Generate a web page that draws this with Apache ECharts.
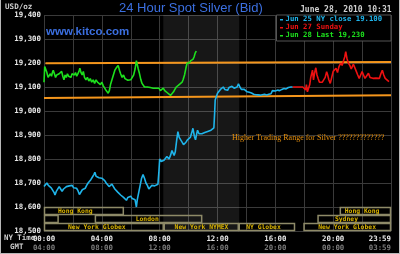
<!DOCTYPE html>
<html><head><meta charset="utf-8">
<script src="https://cdn.jsdelivr.net/npm/echarts@6/dist/echarts.min.js"></script>
<style>
html,body{margin:0;padding:0;background:#000;}
#c{width:400px;height:254px;position:absolute;left:0;top:0;}
#frame{position:absolute;left:0;top:0;width:398px;height:253px;border-left:1px solid #b8b8b8;border-right:1px solid #b8b8b8;border-bottom:1px solid #b8b8b8;pointer-events:none;}
</style></head>
<body><div id="c"></div><div id="frame"></div>
<script>
// ---- data (hours NY time, USD/oz) ----
var greenTimes = [0.00,0.05,0.12,0.20,0.28,0.36,0.44,0.52,0.58,0.64,0.72,0.80,0.88,0.96,1.05,1.14,1.22,1.30,1.38,1.46,1.54,1.62,1.70,1.78,1.86,1.94,2.02,2.10,2.18,2.26,2.34,2.42,2.48,2.56,2.64,2.72,2.80,2.90,3.00,3.10,3.20,3.30,3.40,3.50,3.60,3.70,3.80,3.90,4.00,4.10,4.20,4.30,4.38,4.44,4.52,4.60,4.70,4.80,4.90,5.00,5.13,5.22,5.30,5.40,5.50,5.60,5.70,5.80,5.90,6.00,6.10,6.20,6.30,6.39,6.43,6.52,6.60,6.70,6.78,6.85,6.95,7.05,7.15,7.25,7.35,7.45,7.55,7.65,7.75,7.85,7.95,8.05,8.15,8.25,8.35,8.45,8.55,8.65,8.75,8.80,8.88,8.96,9.05,9.15,9.26,9.35,9.45,9.55,9.62,9.72,9.82,9.90,9.95,10.05,10.15,10.22,10.30,10.38,10.45,10.53];
var greenValues = [19.120,19.185,19.190,19.160,19.140,19.145,19.155,19.145,19.160,19.170,19.155,19.140,19.150,19.145,19.155,19.160,19.165,19.145,19.130,19.150,19.140,19.155,19.145,19.150,19.140,19.155,19.160,19.150,19.160,19.145,19.155,19.165,19.178,19.160,19.150,19.165,19.140,19.130,19.140,19.125,19.135,19.120,19.130,19.115,19.130,19.120,19.125,19.110,19.120,19.105,19.095,19.085,19.090,19.074,19.085,19.110,19.130,19.150,19.170,19.180,19.190,19.170,19.155,19.140,19.150,19.135,19.130,19.128,19.130,19.130,19.135,19.150,19.175,19.210,19.199,19.175,19.157,19.130,19.115,19.108,19.100,19.105,19.100,19.105,19.098,19.100,19.095,19.090,19.095,19.090,19.095,19.085,19.090,19.095,19.085,19.080,19.075,19.070,19.065,19.060,19.070,19.080,19.090,19.100,19.108,19.110,19.115,19.120,19.130,19.150,19.180,19.200,19.199,19.200,19.210,19.205,19.215,19.225,19.240,19.250];

var cyanTimes = [0.00,0.10,0.20,0.30,0.40,0.50,0.60,0.70,0.76,0.85,0.95,1.05,1.15,1.25,1.35,1.45,1.55,1.65,1.75,1.85,1.95,2.05,2.15,2.25,2.35,2.45,2.55,2.65,2.75,2.85,2.95,3.05,3.15,3.25,3.35,3.45,3.52,3.60,3.70,3.80,3.90,4.00,4.10,4.20,4.30,4.40,4.50,4.60,4.70,4.80,4.90,5.00,5.10,5.20,5.30,5.40,5.50,5.60,5.70,5.80,5.90,6.00,6.10,6.20,6.30,6.39,6.45,6.55,6.65,6.75,6.85,6.95,7.05,7.15,7.25,7.35,7.45,7.55,7.65,7.75,7.88,7.95,8.00,8.10,8.20,8.30,8.40,8.50,8.57,8.65,8.75,8.85,8.92,9.00,9.08,9.18,9.26,9.35,9.45,9.55,9.65,9.72,9.82,9.92,10.02,10.12,10.22,10.30,10.40,10.48,10.56,10.62,10.72,10.82,10.92,11.02,11.12,11.22,11.32,11.45,11.55,11.65,11.75,11.80,11.84,11.92,12.00,12.10,12.20,12.30,12.40,12.50,12.60,12.70,12.80,12.90,13.00,13.05,13.15,13.25,13.35,13.45,13.55,13.65,13.75,13.85,13.95,14.05,14.20,14.35,14.50,14.65,14.80,14.95,15.10,15.25,15.40,15.55,15.70,15.80,15.90,16.00,16.15,16.30,16.45,16.60,16.75,16.90,17.08,17.20];
var cyanValues = [18.685,18.690,18.700,18.690,18.695,18.680,18.685,18.660,18.650,18.665,18.670,18.685,18.675,18.665,18.675,18.680,18.685,18.678,18.688,18.683,18.690,18.680,18.688,18.678,18.668,18.652,18.660,18.672,18.668,18.678,18.690,18.700,18.705,18.715,18.725,18.735,18.745,18.728,18.730,18.722,18.728,18.720,18.715,18.710,18.700,18.695,18.685,18.690,18.695,18.685,18.675,18.670,18.662,18.655,18.650,18.645,18.640,18.635,18.628,18.640,18.632,18.645,18.635,18.643,18.630,18.600,18.630,18.660,18.690,18.720,18.735,18.720,18.700,18.690,18.675,18.680,18.690,18.685,18.688,18.690,18.695,18.750,18.800,18.790,18.785,18.795,18.800,18.810,18.815,18.800,18.815,18.835,18.840,18.815,18.830,18.880,18.914,18.890,18.885,18.870,18.860,18.858,18.870,18.880,18.875,18.890,18.910,18.928,18.895,18.880,18.905,18.920,18.905,18.910,18.905,18.912,18.910,18.918,18.915,18.922,18.920,18.928,18.930,18.990,19.046,19.060,19.074,19.080,19.090,19.085,19.100,19.090,19.095,19.086,19.098,19.095,19.103,19.108,19.095,19.092,19.100,19.113,19.100,19.090,19.086,19.090,19.083,19.080,19.078,19.075,19.070,19.068,19.067,19.066,19.068,19.070,19.067,19.070,19.072,19.085,19.088,19.083,19.087,19.085,19.090,19.094,19.092,19.098,19.100,19.100];

var redTimes = [17.20,17.50,17.90,18.00,18.10,18.15,18.22,18.30,18.38,18.45,18.50,18.57,18.64,18.72,18.80,18.88,18.96,19.05,19.15,19.25,19.35,19.45,19.55,19.62,19.70,19.80,19.90,20.00,20.10,20.20,20.30,20.40,20.53,20.62,20.72,20.80,20.87,20.95,21.05,21.15,21.25,21.30,21.40,21.50,21.60,21.70,21.80,21.90,22.00,22.10,22.20,22.30,22.44,22.55,22.65,22.75,22.85,22.95,23.05,23.20,23.30,23.40,23.50,23.60,23.70,23.86];
var redValues = [19.100,19.100,19.100,19.095,19.088,19.110,19.080,19.074,19.110,19.140,19.143,19.170,19.130,19.160,19.180,19.150,19.135,19.120,19.115,19.120,19.115,19.140,19.164,19.150,19.130,19.115,19.140,19.165,19.160,19.178,19.160,19.185,19.200,19.190,19.210,19.225,19.247,19.220,19.200,19.190,19.175,19.180,19.195,19.190,19.165,19.150,19.136,19.150,19.164,19.150,19.136,19.145,19.157,19.140,19.145,19.136,19.140,19.137,19.138,19.136,19.155,19.170,19.150,19.136,19.130,19.122];

var rangeTopTimes = [0.1, 24];
var rangeTopValues = [19.199, 19.204];
var rangeLowTimes = [0, 24];
var rangeLowValues = [19.054, 19.066];

var nymexStart = 8.25, nymexEnd = 13.5;

var yTicks = [18.5,18.6,18.7,18.8,18.9,19.0,19.1,19.2,19.3,19.4];
var nyTimeLabels = {0:'00:00',4:'04:00',8:'08:00',12:'12:00',16:'16:00',20:'20:00',24:'23:59'};
var gmtLabels = {0:'04:00',4:'08:00',8:'12:00',12:'16:00',16:'20:00',20:'00:00',24:'03:59'};

var sessionNames   = ['Hong Kong','Hong Kong','','London','Sydney','New York Globex','New York NYMEX','NY Globex','New York Globex'];
var sessionStart   = [0, 20.46, 0, 3.52, 18.92, 0, 8.28, 13.47, 17.95];
var sessionEnd     = [5.52, 24, 1.01, 10.94, 24, 8.28, 13.47, 17.36, 24];
var sessionRow     = [0, 0, 1, 1, 1, 2, 2, 2, 2];
var sessionLabelAt = [0.97, 20.8, 0, 6.34, 20.12, 1.66, 9.03, 13.98, 18.97];

var legendTexts = ['Jun 25 NY close 19.100', 'Jun 27 Sunday', 'Jun 28 Last 19,230'];
var titleText = '24 Hour Spot Silver (Bid)';
var dateText = 'June 28, 2010 10:31';
var noteText = 'Higher Trading Range for Silver ?????????????';

// ---- build ----
function pairs(t, v){ return t.map(function(x,i){return [x, v[i]];}); }
var CYAN='#1fb4ea', RED='#ee1111', GREEN='#1de01d', ORANGE='#f5961c';
var MONO='"DejaVu Sans Mono", "Liberation Mono", monospace';

var sessionData = sessionNames.map(function(n,i){ return [sessionStart[i], sessionEnd[i], sessionRow[i], sessionLabelAt[i], n]; });

var chart = echarts.init(document.getElementById('c'), null, {renderer:'canvas'});
chart.setOption({
  backgroundColor:'#000',
  animation:false,
  grid:{left:44, top:15, right:9, bottom:23, containLabel:false},
  xAxis:{type:'value', min:0, max:24, interval:2,
    axisLine:{show:false}, axisTick:{show:false},
    splitLine:{show:true, lineStyle:{color:'#3a3a3a', width:1}},
    axisLabel:{margin:4, showMaxLabel:true, alignMaxLabel:'right',
      formatter:function(v){ if(nyTimeLabels[v]===undefined) return ''; return '{a|'+nyTimeLabels[v]+'}\n{b|'+gmtLabels[v]+'}'; },
      rich:{a:{color:'#e8e8e8', fontFamily:MONO, fontWeight:'bold', fontSize:7.4, lineHeight:8.5},
            b:{color:'#7a7a7a', fontFamily:MONO, fontWeight:'bold', fontSize:7.4, lineHeight:8.5}}}
  },
  yAxis:{type:'value', min:18.5, max:19.4, interval:0.1,
    axisLine:{show:false}, axisTick:{show:false},
    splitLine:{show:true, lineStyle:{color:'#3a3a3a', width:1}},
    axisLabel:{margin:3, color:'#e8e8e8', fontFamily:MONO, fontWeight:'bold', fontSize:7.4,
      formatter:function(v){ return v.toFixed(3).replace('.', ','); }}
  },
  series:[
    {type:'line', data:[], markArea:{silent:true, itemStyle:{color:'rgba(255,255,255,0.09)'}, data:[[{xAxis:nymexStart},{xAxis:nymexEnd}]]}},
    {type:'custom', clip:false, z:3, data:sessionData,
      renderItem:function(params, api){
        var row = api.value(2), h = 0.1/3;
        var p0 = api.coord([api.value(0), 18.6 - row*h]);
        var p1 = api.coord([api.value(1), 18.6 - (row+1)*h]);
        var pl = api.coord([api.value(3), 18.6 - (row+0.5)*h]);
        return {type:'group', children:[
          {type:'rect', shape:{x:p0[0]+0.5, y:p0[1]+0.5, width:p1[0]-p0[0]-1, height:p1[1]-p0[1]-1},
            style:{fill:'rgba(0,0,0,0)', stroke:'#8e8a68', lineWidth:1.5}},
          {type:'text', style:{text:api.value(4), x:pl[0], y:pl[1], fill:'#d9b300', font:'bold 6.4px '+MONO, textAlign:'left', textVerticalAlign:'middle'}}
        ]};
      }},
    {type:'line', z:4, data:pairs(rangeTopTimes, rangeTopValues), symbol:'none', lineStyle:{color:ORANGE, width:2}},
    {type:'line', z:4, data:pairs(rangeLowTimes, rangeLowValues), symbol:'none', lineStyle:{color:ORANGE, width:2}},
    {type:'line', z:5, data:pairs(cyanTimes, cyanValues), symbol:'none', lineStyle:{color:CYAN, width:1.6}},
    {type:'line', z:5, data:pairs(redTimes, redValues), symbol:'none', lineStyle:{color:RED, width:1.6}},
    {type:'line', z:6, data:pairs(greenTimes, greenValues), symbol:'none', lineStyle:{color:GREEN, width:1.6}}
  ],
  graphic:[
    {type:'text', left:119, top:2, style:{text:titleText, fill:'#3b6fe0', font:'13px "Liberation Sans", Arial, sans-serif'}},
    {type:'text', left:46, top:26, style:{text:'www.kitco.com', fill:'#3b6fe0', font:'bold 11.5px "Liberation Sans", Arial, sans-serif'}},
    {type:'text', left:5, top:3, style:{text:'USD/oz', fill:'#cfcfcf', font:'bold 7.6px '+MONO}},
    {type:'text', left:300, top:6, style:{text:dateText, fill:'#d0d0d0', font:'bold 8px '+MONO}},
    {type:'text', left:4, top:235, style:{text:'NY Time', fill:'#cfcfcf', font:'bold 7.4px '+MONO}},
    {type:'text', left:10, top:244, style:{text:'GMT', fill:'#cfcfcf', font:'bold 7.4px '+MONO}},
    {type:'rect', z:10, shape:{x:276.5, y:15, width:114.5, height:26}, style:{fill:'#000', stroke:'#555', lineWidth:1}},
    {type:'rect', z:11, shape:{x:280, y:19, width:3, height:1.5}, style:{fill:CYAN}},
    {type:'rect', z:11, shape:{x:280, y:27, width:3, height:1.5}, style:{fill:RED}},
    {type:'rect', z:11, shape:{x:280, y:35, width:3, height:1.5}, style:{fill:GREEN}},
    {type:'text', z:11, left:285.5, top:16, style:{text:legendTexts[0], fill:CYAN, font:'bold 7.3px '+MONO}},
    {type:'text', z:11, left:285.5, top:24, style:{text:legendTexts[1], fill:RED, font:'bold 7.3px '+MONO}},
    {type:'text', z:11, left:285.5, top:32, style:{text:legendTexts[2], fill:GREEN, font:'bold 7.3px '+MONO}},
    {type:'text', z:11, left:232, top:134, style:{text:noteText, fill:'#e8900c', font:'8px "Liberation Serif", "Times New Roman", serif'}}
  ]
});
</script></body></html>
